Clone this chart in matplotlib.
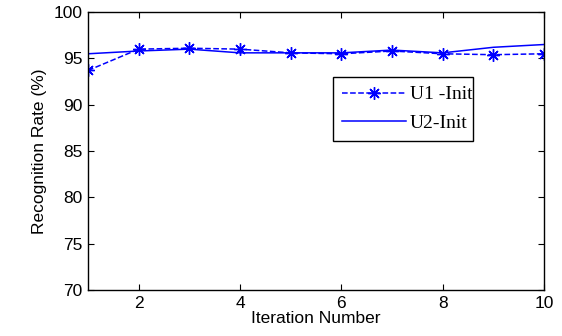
import matplotlib
matplotlib.use('Agg')
from matplotlib import pyplot as plt

# values
iterations = [1, 2, 3, 4, 5, 6, 7, 8, 9, 10]
u1_init = [93.7, 96.0, 96.1, 96.0, 95.6, 95.5, 95.8, 95.5, 95.4, 95.5]
u2_init = [95.5, 95.8, 96.0, 95.6, 95.6, 95.6, 95.9, 95.6, 96.2, 96.5]
x_ticks = [2, 4, 6, 8, 10]
y_ticks = [70, 75, 80, 85, 90, 95, 100]

plt.rcParams['font.family'] = ['Liberation Sans', 'DejaVu Sans']

fig = plt.figure(figsize=(5.62, 3.36), dpi=100)
ax = fig.add_axes([0.1566, 0.137, 0.8114, 0.827])

# MATLAB style asterisk marker (8 arms)
ax.plot(iterations, u1_init, '--', color='#0000ff', marker=(8, 2, 0), markersize=9,
        markeredgewidth=1.0, linewidth=1.1, label='U1 -Init')
ax.plot(iterations, u2_init, '-', color='#0000ff', linewidth=1.1, label='U2-Init')

ax.set_xlim(1, 10)
ax.set_ylim(70, 100)
ax.set_xticks(x_ticks)
ax.set_yticks(y_ticks)
ax.tick_params(direction='in', top=True, right=True, length=4, labelsize=12.5, pad=4)
for s in ax.spines.values():
    s.set_linewidth(1.0)

ax.set_xlabel('Iteration Number', fontsize=12.5, labelpad=0)
ax.set_ylabel('Recognition Rate (%)', fontsize=12.5, labelpad=5)

leg = ax.legend(loc='upper left', bbox_to_anchor=(0.537, 0.532, 0.307, 0.234),
                mode='expand', borderaxespad=0, fancybox=False, framealpha=1,
                edgecolor='black', handlelength=3.3, handletextpad=0.2,
                labelspacing=0.55, borderpad=0.45,
                prop={'family': 'Liberation Serif', 'size': 14})
leg.get_frame().set_linewidth(1.0)

fig.savefig('out.png', dpi=100)
